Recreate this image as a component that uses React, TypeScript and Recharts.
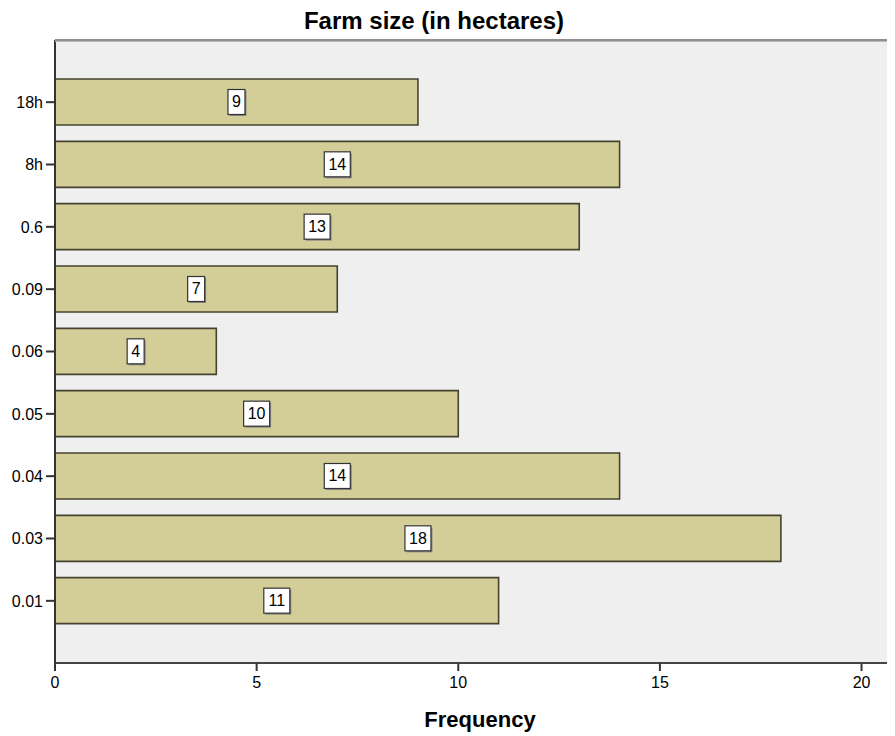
import React from 'react';
import { BarChart, Bar, XAxis, YAxis, CartesianGrid, LabelList } from 'recharts';

const sizes = ['18h', '8h', '0.6', '0.09', '0.06', '0.05', '0.04', '0.03', '0.01'];
const counts = [9, 14, 13, 7, 4, 10, 14, 18, 11];
const xTicks = [0, 5, 10, 15, 20];

const data = sizes.map((size, i) => ({ size, count: counts[i] }));

const FONT = '"Liberation Sans", Arial, sans-serif';

function CountLabel(props: any) {
  const { x, y, width, height, value } = props;
  const text = String(value);
  const w = text.length * 9 + 8;
  const h = 25;
  const cx = x + width / 2;
  const cy = y + height / 2;
  return (
    <g>
      <rect x={cx - w / 2 + 1.5} y={cy - h / 2 + 1.5} width={w} height={h} fill="#888" />
      <rect x={cx - w / 2} y={cy - h / 2} width={w} height={h} fill="#fff" stroke="#333" strokeWidth={1.2} />
      <text
        x={cx}
        y={cy + 1}
        textAnchor="middle"
        dominantBaseline="middle"
        fontFamily={FONT}
        fontSize={16}
        fill="#000"
      >
        {text}
      </text>
    </g>
  );
}

export default function App() {
  return (
    <div style={{ position: 'relative', width: 887, height: 728, fontFamily: FONT }}>
      <div
        style={{
          position: 'absolute',
          left: 0,
          width: 852,
          top: 0,
          textAlign: 'center',
          fontSize: 24,
          fontWeight: 'bold',
          color: '#000',
          lineHeight: '26px',
        }}
      >
        Farm size (in hectares)
      </div>
      <BarChart
        width={887}
        height={728}
        data={data}
        layout="vertical"
        margin={{ top: 32, right: 0, bottom: 43, left: 0 }}
        barSize={46}
      >
        <CartesianGrid horizontal={false} vertical={false} fill="#efefef" />
        <XAxis
          type="number"
          domain={[0, 20.83]}
          ticks={xTicks}
          allowDataOverflow
          height={30}
          tickLine={{ stroke: '#333', strokeWidth: 2 }}
          tickSize={8}
          tickMargin={6}
          axisLine={{ stroke: '#444', strokeWidth: 2 }}
          tick={{ fill: '#000', fontSize: 16, fontFamily: FONT }}
        />
        <YAxis
          type="category"
          dataKey="size"
          width={47}
          padding={{ top: 31, bottom: 31 }}
          tickLine={{ stroke: '#333', strokeWidth: 2 }}
          tickSize={9}
          tickMargin={3}
          axisLine={{ stroke: '#333', strokeWidth: 2 }}
          tick={{ fill: '#000', fontSize: 16, fontFamily: FONT }}
        />
        <Bar dataKey="count" fill="#d3ce97" stroke="#45432f" strokeWidth={1.6} isAnimationActive={false}>
          <LabelList dataKey="count" content={<CountLabel />} />
        </Bar>
      </BarChart>
      <div
        style={{
          position: 'absolute',
          left: 47,
          right: 0,
          top: 31,
          height: 2,
          background: '#8f8f8f',
          borderBottom: '1px solid #b8b8b8',
        }}
      />
      <div
        style={{
          position: 'absolute',
          left: 412,
          width: 120,
          top: 699,
          textAlign: 'center',
          fontSize: 22,
          fontWeight: 'bold',
          color: '#000',
        }}
      >
        Frequency
      </div>
    </div>
  );
}
